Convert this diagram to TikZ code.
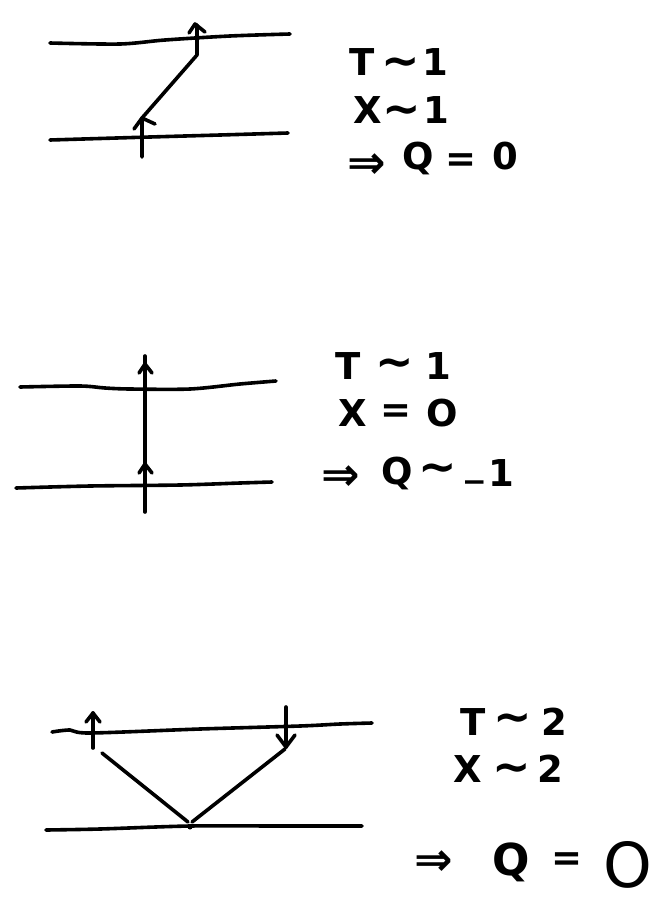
\documentclass[tikz,border=0pt]{standalone}
\usepackage{fontspec}
\setmainfont{DejaVu Sans}
\begin{document}
\begin{tikzpicture}[x=1pt,y=-1pt,line width=3.6pt,line cap=round,line join=round,
  sym/.style={inner sep=0pt,font=\bfseries\fontsize{37}{40}\selectfont},
  opsym/.style={inner sep=0pt,font=\bfseries\fontsize{46}{50}\selectfont},
  midsym/.style={inner sep=0pt,font=\bfseries\fontsize{44}{48}\selectfont},
  bigsym/.style={inner sep=0pt,font=\fontsize{62}{64}\selectfont}]
\useasboundingbox (0,0) rectangle (662,910);
% ---------- panel 1 ----------
\draw plot[smooth] coordinates {(50,43) (120,44) (165,40) (230,36) (290,34)};
\draw plot[smooth] coordinates {(50,140) (150,137) (220,135) (288,133)};
\coordinate (a1) at (142,157);
\coordinate (a2) at (142,118);
\coordinate (a3) at (197,55);
\coordinate (a4) at (197,25);
\draw (a1) -- (a2) -- (a3) -- (a4);
\draw (134,129) -- (a2) -- (155,124);
\draw (189,33) -- (195,24) -- (205,32);
\node[sym] (t1T) at (362,62) {T};
\node[opsym] (t1s) at (401,67) {∼};
\node[sym] (t1o) at (435,62) {1};
\node[sym] (x1X) at (368,110) {X};
\node[opsym] (x1s) at (402,115) {∼};
\node[sym] (x1o) at (436,110) {1};
\node[opsym] (r1a) at (367,166) {⇒};
\node[sym] (r1q) at (418,158) {Q};
\node[sym] (r1e) at (461,163) {=};
\node[sym] (r1z) at (505,156) {0};
% ---------- panel 2 ----------
\draw plot[smooth] coordinates {(20,387) (80,386) (105,388) (130,389) (190,389) (240,384) (276,381)};
\draw plot[smooth] coordinates {(16,488) (90,486) (180,485) (240,483) (272,482)};
\coordinate (b1) at (145,512);
\coordinate (b2) at (145,356);
\draw (b1) -- (b2);
\draw (139,373) -- (145,364) -- (152,373);
\draw (139,473) -- (145,464) -- (152,473);
\node[sym] (t2T) at (348,366) {T};
\node[opsym] (t2s) at (395,368) {∼};
\node[sym] (t2o) at (438,366) {1};
\node[sym] (x2X) at (353,413) {X};
\node[sym] (x2e) at (396,414) {=};
\node[sym] (x2z) at (442,413) {O};
\node[opsym] (r2a) at (341,478) {⇒};
\node[sym] (r2q) at (397,473) {Q};
\node[opsym] (r2s) at (438,473) {∼};
\node[sym] (r2m) at (475,480) {\_};
\node[sym] (r2o) at (501,473) {1};
% ---------- panel 3 ----------
\draw plot[smooth] coordinates {(52,732) (70,730) (90,733) (200,729) (300,726) (340,724) (372,723)};
\draw plot[smooth] coordinates {(46,830) (100,829) (190,826) (280,826) (362,826)};
\coordinate (c1) at (93,748);
\coordinate (c2) at (93,713);
\draw (c1) -- (c2);
\draw (86,722) -- (c2) -- (100,722);
\coordinate (d1) at (286,707);
\coordinate (d2) at (286,747);
\draw (d1) -- (d2);
\draw (277,735) -- (d2) -- (295,735);
\coordinate (v1) at (102,753);
\coordinate (v2) at (188,822);
\coordinate (v3) at (192,822);
\coordinate (v4) at (285,749);
\draw (v1) -- (v2);
\draw (v3) -- (v4);
\fill (190,827) circle (2.5pt);
\node[sym] (t3T) at (473,722) {T};
\node[opsym] (t3s) at (513,723) {∼};
\node[sym] (t3o) at (554,722) {2};
\node[sym] (x3X) at (468,769) {X};
\node[opsym] (x3s) at (512,773) {∼};
\node[sym] (x3o) at (550,769) {2};
\node[opsym] (r3a) at (434,863) {⇒};
\node[midsym] (r3q) at (511,862) {Q};
\node[sym] (r3e) at (567,862) {=};
\node[bigsym] (r3z) at (628,865) {O};
\end{tikzpicture}
\end{document}
